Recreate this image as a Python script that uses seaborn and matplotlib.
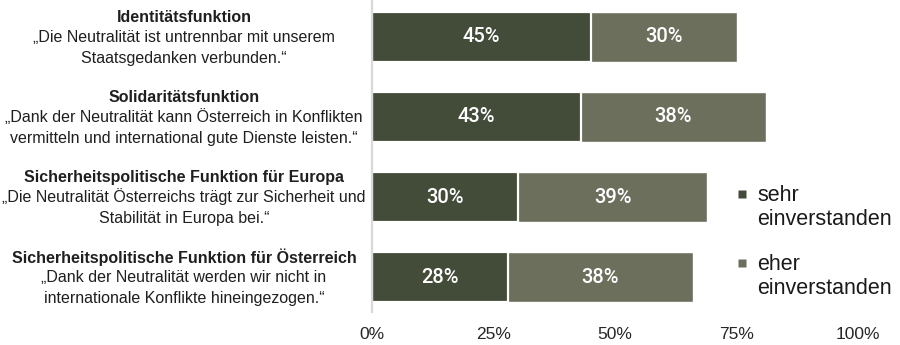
import matplotlib
matplotlib.use("Agg")
import matplotlib.pyplot as plt
import seaborn as sns
import pandas as pd
from matplotlib.lines import Line2D

# ---- data ----
titles = [
    "Identitätsfunktion",
    "Solidaritätsfunktion",
    "Sicherheitspolitische Funktion für Europa",
    "Sicherheitspolitische Funktion für Österreich",
]
quotes = [
    "„Die Neutralität ist untrennbar mit unserem\nStaatsgedanken verbunden.“",
    "„Dank der Neutralität kann Österreich in Konflikten\nvermitteln und international gute Dienste leisten.“",
    "„Die Neutralität Österreichs trägt zur Sicherheit und\nStabilität in Europa bei.“",
    "„Dank der Neutralität werden wir nicht in\ninternationale Konflikte hineingezogen.“",
]
sehr = [45, 43, 30, 28]
eher = [30, 38, 39, 38]
series_names = ["sehr\neinverstanden", "eher\neinverstanden"]
xticks = [0, 25, 50, 75, 100]
xtick_labels = ["0%", "25%", "50%", "75%", "100%"]

# ---- style ----
DARK = "#434b39"
LIGHT = "#6b6f5c"
TEXT = "#1f1f1f"

sns.set_theme(style="white")
plt.rcParams["font.family"] = ["Liberation Sans", "DejaVu Sans"]

df = pd.DataFrame({"cat": titles, "sehr": sehr, "eher": eher})
df["total"] = df["sehr"] + df["eher"]

W, H = 900, 345
fig = plt.figure(figsize=(W / 100, H / 100), dpi=100)
ax = fig.add_axes([372 / W, 33 / H, 486 / W, 312 / H])

sns.barplot(data=df, y="cat", x="total", orient="h", color=LIGHT, saturation=1,
            width=0.625, edgecolor="white", linewidth=1.0, ax=ax)
sns.barplot(data=df, y="cat", x="sehr", orient="h", color=DARK, saturation=1,
            width=0.625, edgecolor="white", linewidth=1.6, ax=ax)

ax.set_xlim(0, 100)
ax.set_ylim(3.4375, -0.4625)
ax.set_xlabel("")
ax.set_ylabel("")
ax.set_yticks([])
ax.set_xticks(xticks)
ax.set_xticklabels(xtick_labels)
ax.tick_params(axis="x", length=0, pad=11, labelsize=12.5, labelcolor="#262626")
for side in ["top", "right", "bottom"]:
    ax.spines[side].set_visible(False)
ax.spines["left"].set_color("#d9d9d9")
ax.spines["left"].set_linewidth(1.6)

# values inside bars
for i, (s, e) in enumerate(zip(sehr, eher)):
    ax.text(s / 2, i, f"{s}%", ha="center", va="center", color="white",
            fontsize=14.5, fontfamily=["Roboto", "DejaVu Sans"], fontweight="medium")
    ax.text(s + e / 2, i, f"{e}%", ha="center", va="center", color="white",
            fontsize=14.5, fontfamily=["Roboto", "DejaVu Sans"], fontweight="medium")

# category labels on the left
xc = 184 / W
for i, (t, q) in enumerate(zip(titles, quotes)):
    ax.annotate(t, xy=(xc, i), xycoords=("figure fraction", "data"),
                xytext=(0, 20), textcoords="offset pixels",
                ha="center", va="center", fontsize=11.5, fontweight="bold",
                color=TEXT, annotation_clip=False)
    for k, line in enumerate(q.split("\n")):
        ax.annotate(line, xy=(xc, i), xycoords=("figure fraction", "data"),
                    xytext=(0, -21 * k), textcoords="offset pixels",
                    ha="center", va="center", fontsize=11.5,
                    color=TEXT, annotation_clip=False)

# legend
handles = [Line2D([], [], marker="s", linestyle="none", markersize=6,
                  markerfacecolor=DARK, markeredgecolor="none"),
           Line2D([], [], marker="s", linestyle="none", markersize=6,
                  markerfacecolor=LIGHT, markeredgecolor="none")]
leg = fig.legend(handles, series_names, loc="upper left",
                 bbox_to_anchor=(726 / W, 1 - 174 / H), frameon=False,
                 fontsize=15.5, handlelength=0.5, handleheight=1.3,
                 handletextpad=0.45, labelspacing=1.1, borderpad=0,
                 labelcolor="#1a1a1a")
for t in leg.get_texts():
    t.set_linespacing(1.2)
for col in leg._legend_handle_box.get_children():
    for item in col.get_children():
        item.align = "top"

fig.savefig("out.png", dpi=100)
